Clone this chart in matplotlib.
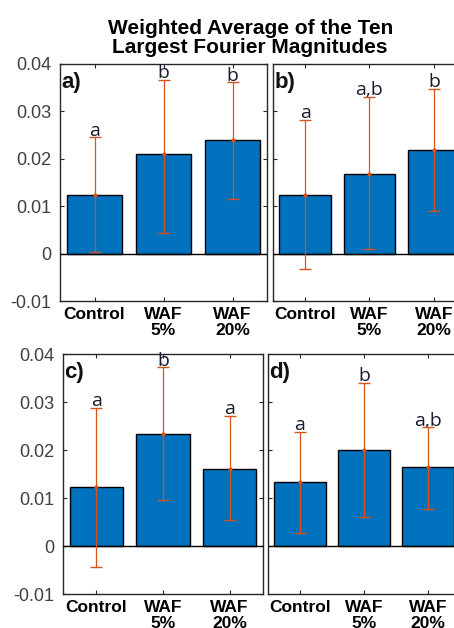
import matplotlib
matplotlib.use("Agg")
import matplotlib.pyplot as plt
import numpy as np

categories = ["Control", "WAF\n5%", "WAF\n20%"]
ticks_y = [-0.01, 0, 0.01, 0.02, 0.03, 0.04]
tick_labels_y = ["-0.01", "0", "0.01", "0.02", "0.03", "0.04"]

means_a = [0.0123, 0.0211, 0.0240]
upper_a = [0.0245, 0.0366, 0.0361]
lower_a = [0.0004, 0.0043, 0.0116]
letters_a = ["a", "b", "b"]

means_b = [0.0123, 0.0168, 0.0218]
upper_b = [0.0282, 0.0330, 0.0348]
lower_b = [-0.0033, 0.0010, 0.0089]
letters_b = ["a", "a,b", "b"]

means_c = [0.0122, 0.0234, 0.0161]
upper_c = [0.0288, 0.0372, 0.0270]
lower_c = [-0.0044, 0.0096, 0.0055]
letters_c = ["a", "b", "a"]

means_d = [0.0134, 0.0199, 0.0165]
upper_d = [0.0237, 0.0340, 0.0247]
lower_d = [0.0028, 0.0060, 0.0078]
letters_d = ["a", "b", "a,b"]

BAR = "#0072BD"
ERR = "#D95319"
GRAY = "#262626"
plt.rcParams['font.family'] = ['Liberation Sans', 'DejaVu Sans']


def panel(fig, rect, tag, means, upper, lower, letters, show_y):
    ax = fig.add_axes(rect)
    x = np.arange(1, len(categories) + 1)
    means = np.array(means)
    err = [means - np.array(lower), np.array(upper) - means]
    ax.bar(x, means, width=0.8, color=BAR, edgecolor="black", linewidth=1, zorder=2)
    ax.axhline(0, color="black", lw=1, zorder=3)
    ax.errorbar(x, means, yerr=err, fmt=".", color=ERR, ecolor=ERR, elinewidth=0.9,
                capsize=4.5, capthick=1, markersize=4, zorder=4)
    for xi, up, lab in zip(x, upper, letters):
        ax.annotate(lab, (xi, up), xytext=(0, -1.5), textcoords="offset points",
                    ha="center", va="bottom", fontsize=14, color="#1a1a2e",
                    family=["Open Sans", "DejaVu Sans"], annotation_clip=False)
    ax.text(0.008, 0.965, tag, transform=ax.transAxes, ha="left", va="top",
            fontsize=16, fontweight="bold", color="#111111")
    ax.set_xlim(0.5, 3.5)
    ax.set_ylim(-0.01, 0.04)
    ax.set_xticks(x)
    ax.set_xticklabels(categories, fontweight="bold", fontsize=12.5, color="black",
                       linespacing=1.1)
    ax.set_yticks(ticks_y)
    if show_y:
        ax.set_yticklabels(tick_labels_y, fontsize=13, color="#404040")
    else:
        ax.set_yticklabels([])
    ax.tick_params(direction="in", length=3, width=0.8, top=True, right=True,
                   color=GRAY)
    ax.tick_params(axis="x", pad=4)
    ax.tick_params(axis="y", pad=6)
    for s in ax.spines.values():
        s.set_color(GRAY)
        s.set_linewidth(1)
    return ax


def main():
    fig = plt.figure(figsize=(4.54, 6.28), dpi=100)
    panel(fig, [0.1322, 0.5207, 0.4559, 0.3774], "a)", means_a, upper_a, lower_a, letters_a, True)
    panel(fig, [0.6013, 0.5207, 0.4251, 0.3774], "b)", means_b, upper_b, lower_b, letters_b, False)
    panel(fig, [0.1388, 0.0541, 0.4405, 0.3822], "c)", means_c, upper_c, lower_c, letters_c, True)
    panel(fig, [0.5903, 0.0541, 0.4229, 0.3822], "d)", means_d, upper_d, lower_d, letters_d, False)
    fig.text(0.551, 1 - 38 / 628, "Weighted Average of the Ten\nLargest Fourier Magnitudes",
             ha="center", va="center", fontsize=15, fontweight="bold", linespacing=1.05)
    fig.savefig("out.png", dpi=100)


if __name__ == "__main__":
    main()
